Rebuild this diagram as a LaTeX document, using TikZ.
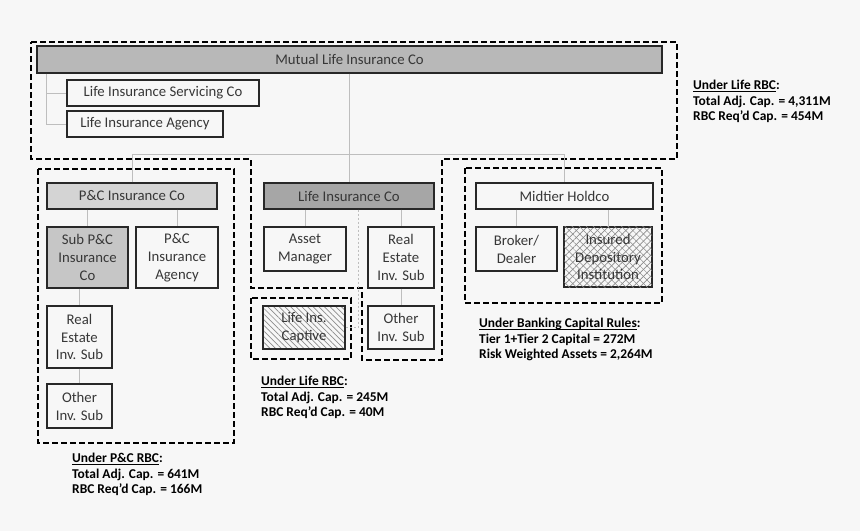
\documentclass[tikz,border=0pt]{standalone}
\usepackage{amsmath}
\usepackage{fontspec}
\setmainfont{Carlito}
\usepackage{tikz}
\usetikzlibrary{patterns.meta}
\definecolor{paper}{RGB}{247, 247, 247}
\definecolor{boxline}{RGB}{40, 40, 40}
\definecolor{boxtext}{RGB}{55, 55, 55}
\definecolor{linkgray}{RGB}{190, 190, 190}
\definecolor{topgray}{RGB}{184, 184, 184}
\definecolor{lifegray}{RGB}{166, 166, 166}
\definecolor{pcgray}{RGB}{212, 212, 212}
\definecolor{subgray}{RGB}{198, 198, 198}
\definecolor{hatchgray}{RGB}{140, 140, 140}
\newcommand{\capul}[1]{\underline{\smash[b]{#1}}}
\tikzset{
    orgbox/.style={draw=boxline, line width=1.1bp, inner sep=2bp, text=boxtext, align=center, font=\fontsize{14.8}{18}\selectfont},
    topbox/.style={orgbox, fill=topgray},
    lifebox/.style={orgbox, fill=lifegray},
    pcbox/.style={orgbox, fill=pcgray},
    subbox/.style={orgbox, fill=subgray},
    captivebox/.style={orgbox, pattern={Lines[angle=-45, distance=4bp, line width=0.7bp]}, pattern color=hatchgray},
    bankbox/.style={orgbox, pattern={Lines[angle=45, distance=5bp, line width=0.7bp]}, pattern color=hatchgray,
        postaction={pattern={Lines[angle=-45, distance=5bp, line width=0.5bp]}, pattern color=hatchgray}},
    link/.style={draw=linkgray, line width=0.8bp},
    groupline/.style={draw=black, line width=2bp, dash pattern=on 6bp off 3bp},
    capnote/.style={anchor=north west, inner sep=0pt, align=left, font=\bfseries\fontsize{13.5}{15.5}\selectfont}
}

\begin{document}
\begin{tikzpicture}[x=1bp, y=-1bp]
    \fill[paper] (0,0) rectangle (860,531);
    \useasboundingbox (0,0) rectangle (860,531);

    % regulatory groups
    \draw[groupline] (31,42) -- (677,42) -- (677,159) -- (442,159) -- (442,360) -- (362,360)
        -- (362,288) -- (251,288) -- (251,159) -- (31,159) -- cycle;
    \draw[groupline] (38,169) rectangle (234,443);
    \draw[groupline] (251,298) rectangle (351,359);
    \draw[groupline] (465,168) rectangle (662,303);

    % top company
    \node[topbox, minimum width=625bp, minimum height=27bp] (mutual) at (349.5,59.5) {Mutual Life Insurance Co};
    \node[orgbox, minimum width=192bp, minimum height=26bp] (servco) at (163,93) {Life Insurance Servicing Co};
    \node[orgbox, minimum width=156bp, minimum height=26bp] (agency) at (145,124) {Life Insurance Agency};

    % P&C side
    \node[pcbox, minimum width=170bp, minimum height=26bp] (pcins) at (132,196) {P\&C Insurance Co};
    \node[subbox, minimum width=81bp, minimum height=61bp] (subpc) at (87.5,257.5) {Sub P\&C\\Insurance\\Co};
    \node[orgbox, minimum width=82bp, minimum height=61bp] (pcagency) at (177,257.5) {P\&C\\Insurance\\Agency};
    \node[orgbox, minimum width=65bp, minimum height=62bp] (pcreal) at (79.5,337) {Real\\Estate\\Inv. Sub};
    \node[orgbox, minimum width=65bp, minimum height=44bp] (pcother) at (79.5,406) {Other\\Inv. Sub};

    % life side
    \node[lifebox, minimum width=170bp, minimum height=26bp] (lifeins) at (349,196) {Life Insurance Co};
    \node[orgbox, minimum width=82bp, minimum height=44bp] (assetmgr) at (305,249) {Asset\\Manager};
    \node[orgbox, minimum width=66bp, minimum height=61bp] (lifereal) at (401,257.5) {Real\\Estate\\Inv. Sub};
    \node[orgbox, minimum width=66bp, minimum height=43bp] (lifeother) at (401,327.5) {Other\\Inv. Sub};
    \node[captivebox, minimum width=82bp, minimum height=43bp] (captive) at (304,327.5) {Life Ins.\\Captive};

    % banking side
    \node[orgbox, minimum width=177bp, minimum height=26bp] (midtier) at (564.5,196) {Midtier Holdco};
    \node[orgbox, minimum width=81bp, minimum height=44bp] (broker) at (516.5,249) {Broker/\\Dealer};
    \node[bankbox, minimum width=88bp, minimum height=60bp] (insured) at (608,257) {Insured\\Depository\\Institution};

    % ownership links
    \coordinate (trunk) at ([xshift=10bp]mutual.south west);
    \coordinate (bus) at (0,154);
    \draw[link] (trunk) |- (agency.west);
    \draw[link] (trunk |- servco.west) -- (servco.west);
    \draw[link] (lifeins.north |- mutual.south) -- (lifeins.north);
    \draw[link] (pcins.north) |- (bus -| midtier.north) -- (midtier.north);
    \draw[link] (subpc.north |- pcins.south) -- (subpc.north);
    \draw[link] (pcagency.north |- pcins.south) -- (pcagency.north);
    \draw[link] (pcreal.north |- subpc.south) -- (pcreal.north);
    \draw[link] (pcreal) -- (pcother);
    \draw[link] (assetmgr.north |- lifeins.south) -- (assetmgr.north);
    \draw[link] (lifereal.north |- lifeins.south) -- (lifereal.north);
    \draw[link] (lifereal) -- (lifeother);
    \draw[link, dash pattern=on 2bp off 2bp] ([xshift=9bp]lifeins.south) |- (captive.east);
    \draw[link] (broker.north |- midtier.south) -- (broker.north);
    \draw[link] (insured.north |- midtier.south) -- (insured.north);

    % capital notes
    \node[capnote] (toprbc) at (693,80) {\capul{Under Life RBC}:\\Total Adj. Cap. = 4,311M\\RBC Req’d Cap. = 454M};
    \node[capnote] (liferbc) at (261,376) {\capul{Under Life RBC}:\\Total Adj. Cap. = 245M\\RBC Req’d Cap. = 40M};
    \node[capnote] (pcrbc) at (72,453) {\capul{Under P\&C RBC}:\\Total Adj. Cap. = 641M\\RBC Req’d Cap. = 166M};
    \node[capnote] (bankrules) at (479,318) {\capul{Under Banking Capital Rules}:\\Tier 1+Tier 2 Capital = 272M\\Risk Weighted Assets = 2,264M};
\end{tikzpicture}
\end{document}
